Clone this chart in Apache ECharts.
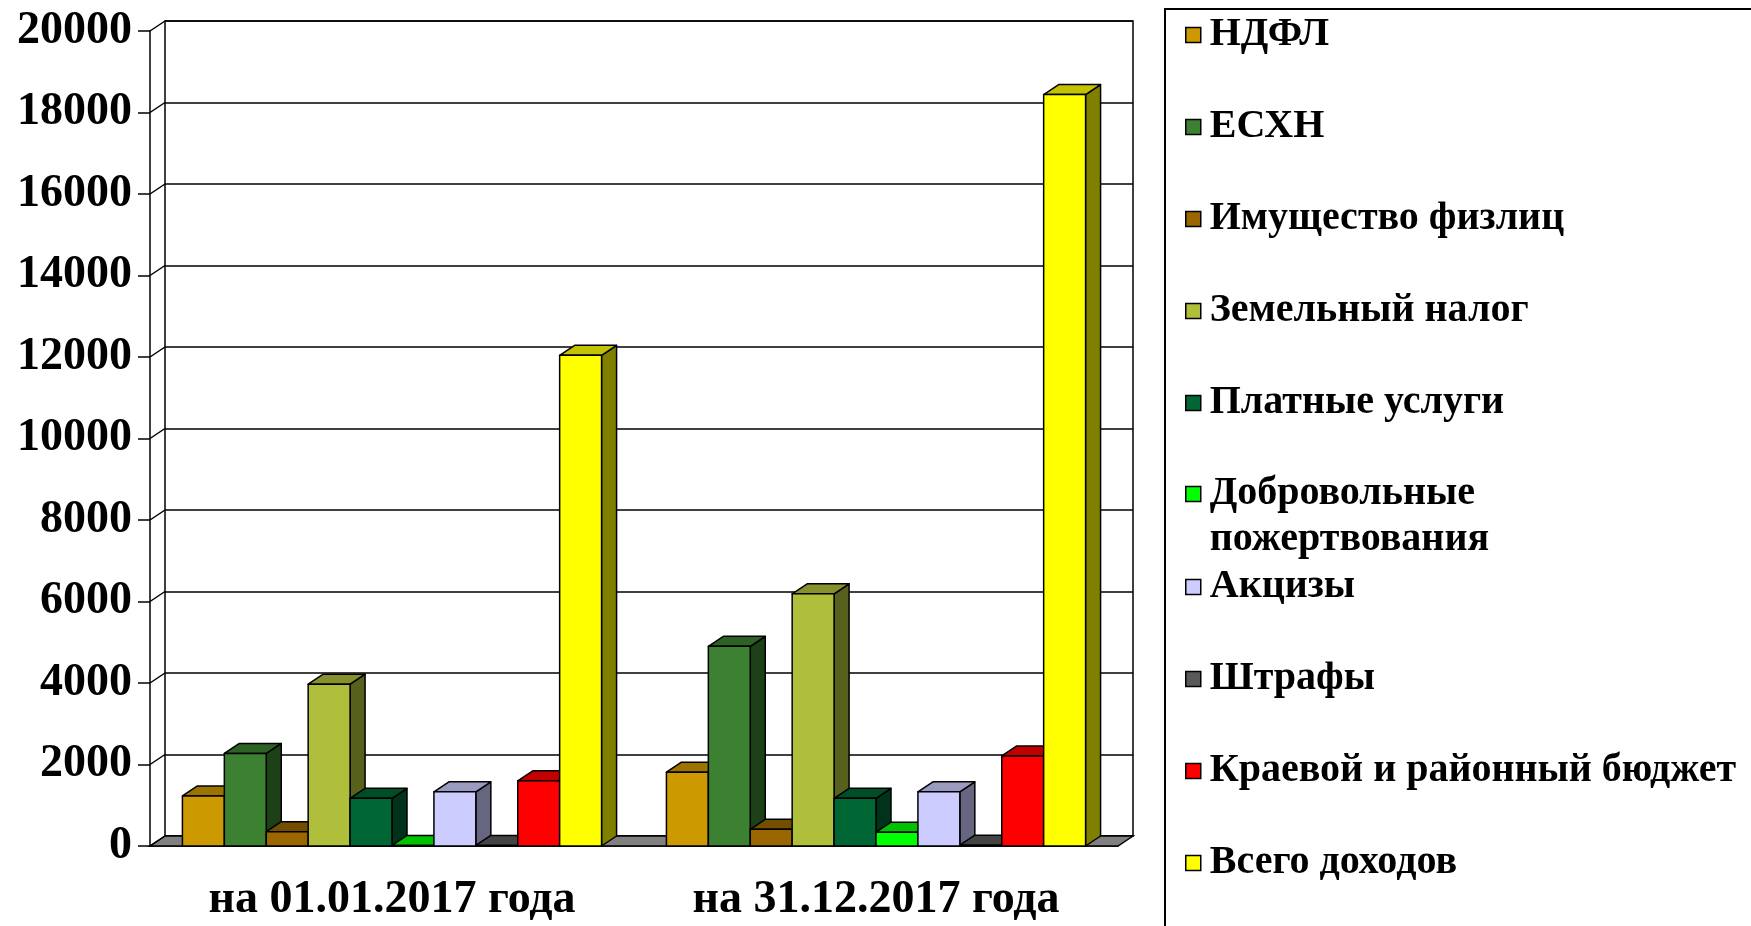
<!DOCTYPE html>
<html>
<head>
<meta charset="utf-8">
<script src="https://cdn.jsdelivr.net/npm/echarts@6/dist/echarts.min.js"></script>
<style>
html,body{margin:0;padding:0;background:#fff}
#chart{width:1751px;height:926px}
</style>
</head>
<body>
<div id="chart"></div>
<script>
// категории и ряды
const categories = ['на 01.01.2017 года', 'на 31.12.2017 года']
const seriesNames = ['НДФЛ', 'ЕСХН', 'Имущество физлиц', 'Земельный налог', 'Платные услуги',
  'Добровольные пожертвования', 'Акцизы', 'Штрафы', 'Краевой и районный бюджет', 'Всего доходов']
const seriesColors = ['#CC9900', '#3C8031', '#996600', '#B0BF3B', '#006633',
  '#00FF00', '#CCCCFF', '#595959', '#FF0000', '#FFFF00']

const ndfl = [1230, 1810]
const eshn = [2270, 4900]
const imushestvo = [350, 410]
const zemelny = [3970, 6190]
const platnye = [1170, 1170]
const dobrovolnye = [15, 340]
const akcizy = [1330, 1330]
const shtrafy = [15, 20]
const kraevoy = [1600, 2210]
const vsego = [12040, 18440]
const seriesValues = [ndfl, eshn, imushestvo, zemelny, platnye, dobrovolnye, akcizy, shtrafy, kraevoy, vsego]

const yTicks = [0, 2000, 4000, 6000, 8000, 10000, 12000, 14000, 16000, 18000, 20000]

// псевдо-3D
const DX = 15, DY = 10
const BAR_RATIO = 0.0866
const N = seriesNames.length

function shade(hex, k) {
  const n = parseInt(hex.slice(1), 16)
  const r = Math.round(((n >> 16) & 255) * k)
  const g = Math.round(((n >> 8) & 255) * k)
  const b = Math.round((n & 255) * k)
  return 'rgb(' + r + ',' + g + ',' + b + ')'
}

function bar3d(s) {
  return function (params, api) {
    const ci = api.value(0), v = api.value(1)
    const top = api.coord([ci, v]), base = api.coord([ci, 0])
    const bw = api.size([1, 0])[0] * BAR_RATIO
    const x0 = top[0] - bw * N / 2 + s * bw, x1 = x0 + bw
    const yt = top[1], yb = base[1]
    const c = seriesColors[s]
    const st = {stroke: '#000', lineWidth: 1.5, lineJoin: 'round'}
    return {
      type: 'group',
      children: [
        {type: 'polygon', shape: {points: [[x1, yt], [x1 + DX, yt - DY], [x1 + DX, yb - DY], [x1, yb]]}, style: Object.assign({fill: shade(c, 0.5)}, st)},
        {type: 'polygon', shape: {points: [[x0, yt], [x1, yt], [x1 + DX, yt - DY], [x0 + DX, yt - DY]]}, style: Object.assign({fill: shade(c, 0.76)}, st)},
        {type: 'polygon', shape: {points: [[x0, yb], [x1, yb], [x1, yt], [x0, yt]]}, style: Object.assign({fill: c}, st)}
      ]
    }
  }
}

const font = 'Liberation Serif'
const legendText = {fontFamily: font, fontWeight: 'bold', fontSize: 40, color: '#000', lineHeight: 46, padding: [0, 0, 0, 4]}
const legendBase = {
  orient: 'vertical', left: 1185, padding: 0, itemGap: 46, itemWidth: 15, itemHeight: 15,
  icon: 'rect', selectedMode: false, textStyle: legendText,
  itemStyle: {borderColor: '#000', borderWidth: 1.5}
}

const series = seriesNames.map((name, s) => ({
  name: name,
  type: 'custom',
  xAxisIndex: 0,
  yAxisIndex: 0,
  z: 2,
  itemStyle: {color: seriesColors[s]},
  renderItem: bar3d(s),
  encode: {x: 0, y: 1},
  data: seriesValues[s].map((v, i) => [i, v])
}))

// пол и боковая стенка
series.unshift({
  type: 'custom',
  xAxisIndex: 0,
  yAxisIndex: 0,
  z: 1,
  silent: true,
  encode: {x: 0, y: 1},
  data: yTicks.map(v => [0, v]),
  renderItem: function (params, api) {
    const cs = params.coordSys
    const y = api.coord([0, api.value(1)])[1]
    const x = cs.x
    const ch = [{type: 'line', shape: {x1: x, y1: y, x2: x + DX, y2: y - DY}, style: {stroke: '#000', lineWidth: 1.5}}]
    if (api.value(1) === 0) {
      ch.unshift({type: 'polygon',
        shape: {points: [[x, y], [x + cs.width, y], [x + cs.width + DX, y - DY], [x + DX, y - DY]]},
        style: {fill: '#808080', stroke: '#000', lineWidth: 1.5}})
    }
    return {type: 'group', children: ch}
  }
})

const option = {
  backgroundColor: '#fff',
  animation: false,
  grid: [
    {left: 150, right: 633, top: 31, bottom: 80},
    {left: 150 + DX, right: 633 - DX, top: 31 - DY, bottom: 80 + DY, show: true, borderColor: '#000', borderWidth: 1.5}
  ],
  xAxis: [
    {
      type: 'category', gridIndex: 0, data: categories,
      axisLine: {lineStyle: {color: '#000', width: 1.5}},
      axisTick: {length: 12, lineStyle: {color: '#000', width: 1.5}},
      axisLabel: {margin: 31, color: '#000', fontFamily: font, fontWeight: 'bold', fontSize: 46}
    },
    {type: 'category', gridIndex: 1, data: categories, show: false}
  ],
  yAxis: [
    {
      type: 'value', gridIndex: 0, min: 0, max: 20000, interval: 2000,
      axisLine: {show: true, lineStyle: {color: '#000', width: 1.5}},
      axisTick: {show: true, length: 12, lineStyle: {color: '#000', width: 1.5}},
      splitLine: {show: false},
      axisLabel: {margin: 18, color: '#000', fontFamily: font, fontWeight: 'bold', fontSize: 46,
        formatter: v => String(v)}
    },
    {
      type: 'value', gridIndex: 1, min: 0, max: 20000, interval: 2000,
      axisLine: {show: false}, axisTick: {show: false}, axisLabel: {show: false},
      splitLine: {show: true, lineStyle: {color: '#000', width: 1.5}}
    }
  ],
  legend: [
    Object.assign({}, legendBase, {top: 12, data: seriesNames.slice(0, 5)}),
    Object.assign({}, legendBase, {top: 425, data: [seriesNames[5]],
      formatter: n => '\u00a0\n' + n.replace(' ', '\n')}),
    Object.assign({}, legendBase, {top: 564, data: seriesNames.slice(6)})
  ],
  graphic: [
    {type: 'rect', shape: {x: 1165, y: 9, width: 800, height: 1000}, style: {fill: 'none', stroke: '#000', lineWidth: 2}, z: 0}
  ],
  series: series
}

const chart = echarts.init(document.getElementById('chart'))
chart.setOption(option)
</script>
</body>
</html>
